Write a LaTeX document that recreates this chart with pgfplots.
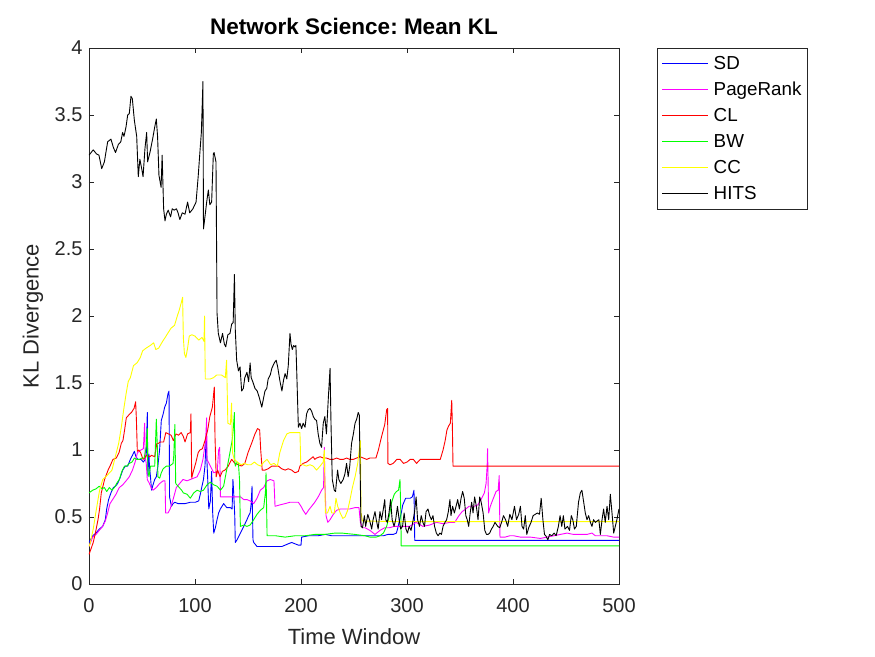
\documentclass[border=0pt]{standalone}
\usepackage{fontspec}
\setmainfont{Liberation Sans}
\usepackage{pgfplots}
\pgfplotsset{compat=1.18}
\frenchspacing

\definecolor{axiscol}{rgb}{0.15,0.15,0.15}
\definecolor{mblue}{rgb}{0,0,1}
\definecolor{mmagenta}{rgb}{1,0,1}
\definecolor{mred}{rgb}{1,0,0}
\definecolor{mgreen}{rgb}{0,1,0}
\definecolor{myellow}{rgb}{1,1,0}

\begin{document}
\begin{tikzpicture}
\useasboundingbox (-89pt,-72pt) rectangle (786pt,584pt);
\begin{axis}[
  scale only axis,
  width=530pt, height=536pt,
  at={(0pt,0pt)}, anchor=south west,
  xmin=0, xmax=500, ymin=0, ymax=4,
  xtick={0,100,...,500},
  ytick={0,0.5,...,4},
  tick align=inside,
  major tick length=5pt,
  axis line style={draw=axiscol, line width=0.8pt},
  every tick/.style={draw=axiscol, line width=0.8pt},
  /pgf/number format/assume math mode=true,
  ticklabel style={font=\fontsize{20}{24}\selectfont, text=axiscol},
  xticklabel style={yshift=-11pt},
  yticklabel style={xshift=-3pt},
  title={Network Science: Mean KL},
  title style={font=\bfseries\fontsize{22.5}{26}\selectfont, at={(axis description cs:0.5,1.029)}, anchor=center, yshift=0pt},
  xlabel={Time Window},
  ylabel={KL Divergence},
  xlabel style={font=\fontsize{22}{26}\selectfont, text=axiscol, at={(axis description cs:0.5,-0.099)}, anchor=center},
  ylabel style={font=\fontsize{22}{26}\selectfont, text=axiscol, at={(axis description cs:-0.106,0.5)}, anchor=center},
  legend style={at={(1.0725,1.0006)}, anchor=north west, draw=axiscol, line width=0.8pt,
    font=\fontsize{18.8}{22}\selectfont, inner xsep=4pt, inner ysep=6pt, row sep=7.4pt,
    /tikz/every odd column/.append style={column sep=3pt}},
  legend cell align=left,
  legend image code/.code={\draw[#1] (0pt,0pt) -- (46pt,0pt);},
  every axis plot/.append style={line width=0.9pt, line join=round, mark=none},
]

% SD
\addplot[color=mblue] coordinates {
(0,0.31) (3.5,0.36) (6.6,0.38) (9.7,0.41) (12.9,0.43) (15.4,0.48) (16.7,0.56) (18.5,0.63) (20.7,0.68) (23,0.72) (25,0.73) (27,0.75) (29.2,0.79) (31.8,0.85) (34.3,0.88) (36.5,0.88) (38,0.91) (39.6,0.94) (41,0.96) (42.8,0.99) (44.3,0.95) (46,0.93) (49,0.93) (51.3,0.91) (53,0.93) (54,0.96) (55,1.28) (55.5,0.81) (56.6,0.97) (57,0.88) (58,0.80) (59,0.70) (60.4,0.74) (62,0.78) (63.5,0.80) (65,0.88) (66.7,1.01) (68.2,1.22) (70,1.27) (71.4,1.32) (73,1.35) (74.5,1.42) (75.5,1.44) (76,0.65) (77.8,0.58) (79.3,0.60) (81,0.61) (84,0.60) (87.4,0.60) (90.6,0.60) (95.6,0.61) (100.3,0.61) (103.5,0.62) (105,0.67) (106.6,0.73) (108,0.78) (109.4,0.88) (110.6,1.10) (111.3,0.91) (112,0.78) (113,0.56) (114.5,0.62) (115.7,0.84) (116.7,0.53) (117.7,0.38) (119.2,0.42) (120.8,0.48) (122.3,0.53) (123.9,0.56) (125.5,0.58) (127,0.60) (130,0.57) (133.4,0.57) (135,0.56) (135.8,0.78) (136.5,0.68) (137.5,0.51) (138,0.31) (139.7,0.33) (142.8,0.38) (146,0.43) (149,0.48) (150.6,0.51) (152,0.53) (153,0.60) (153.8,0.73) (154.7,0.33) (155.4,0.31) (158.5,0.28) (165,0.28) (171,0.28) (182,0.28) (185,0.29) (188,0.30) (191.2,0.31) (194.3,0.30) (197.5,0.29) (200,0.29) (200.6,0.35) (207,0.36) (216,0.36) (223,0.37) (229,0.36) (238.5,0.36) (251,0.36) (263.5,0.36) (271,0.36) (277.7,0.36) (282,0.37) (287,0.37) (290,0.38) (291.4,0.42) (293,0.48) (294.6,0.53) (296,0.59) (298.7,0.64) (303,0.64) (305,0.65) (306.6,0.70) (307.3,0.326) (500,0.326)
};
\addlegendentry{SD}

% PageRank
\addplot[color=mmagenta] coordinates {
(0,0.28) (3.5,0.35) (6.6,0.37) (9.7,0.40) (12.9,0.43) (15.4,0.47) (17.6,0.53) (19.8,0.60) (22.3,0.63) (25.5,0.67) (28.6,0.72) (31.8,0.74) (35,0.77) (38,0.80) (41,0.85) (43.5,0.91) (45.7,0.98) (49,1.00) (51.3,1.01) (52.5,1.20) (53,0.95) (54,0.90) (55,0.78) (57,0.75) (58.6,0.72) (60.4,0.70) (63.5,0.72) (66.7,0.75) (70,0.77) (71.7,0.77) (72.3,0.53) (74.5,0.53) (76.6,0.56) (79.3,0.63) (82.4,0.72) (85.5,0.75) (88.7,0.78) (92.5,0.77) (95.6,0.78) (98.8,0.79) (102,0.80) (105,0.85) (107.5,0.93) (110,1.07) (111,1.24) (111.3,0.93) (114.5,0.88) (117.7,0.83) (121,0.84) (122.3,1.00) (123.3,1.02) (124,0.65) (130,0.65) (136.5,0.65) (143,0.65) (146,0.63) (149,0.63) (152,0.62) (155.4,0.60) (158.5,0.64) (161.6,0.70) (164.8,0.72) (168,0.77) (171,0.78) (174.5,0.77) (175.5,0.58) (180,0.59) (185,0.60) (189.6,0.61) (194.3,0.61) (197.5,0.61) (200,0.58) (202,0.55) (204.5,0.52) (207,0.55) (210,0.58) (213,0.61) (216.2,0.65) (219.4,0.70) (221.3,0.72) (222,1.02) (222.5,0.78) (223.6,0.51) (225.3,0.46) (227.4,0.48) (230.5,0.52) (233.6,0.55) (237,0.56) (241.5,0.56) (246,0.56) (251,0.57) (254.7,0.57) (256,0.46) (258,0.42) (260.4,0.42) (265,0.40) (269.8,0.37) (274.5,0.40) (279,0.42) (283.4,0.42) (288,0.43) (297.6,0.43) (302.4,0.43) (308.6,0.46) (315,0.43) (321.4,0.44) (327.7,0.46) (334,0.45) (340.5,0.46) (345,0.46) (349,0.51) (352,0.54) (355.5,0.56) (358.5,0.58) (363.5,0.58) (366.7,0.59) (369.8,0.63) (373,0.68) (374.6,0.75) (375.6,0.88) (376,1.01) (376.5,0.78) (377,0.53) (378.6,0.58) (381,0.63) (384,0.69) (386,0.70) (387,0.81) (387.7,0.35) (392.5,0.35) (397,0.36) (400.6,0.36) (406.9,0.35) (416.4,0.35) (425.8,0.34) (432,0.35) (438.4,0.36) (444.7,0.37) (451,0.38) (457,0.37) (463.5,0.37) (469.8,0.37) (474.5,0.38) (477.7,0.36) (482.4,0.36) (488.7,0.36) (495,0.35) (500,0.35)
};
\addlegendentry{PageRank}

% CL
\addplot[color=mred] coordinates {
(0,0.22) (0.9,0.24) (4,0.31) (6,0.38) (8.5,0.48) (10,0.56) (11.6,0.68) (14.7,0.78) (18,0.85) (20.4,0.89) (22.6,0.93) (25.8,0.94) (28.3,0.98) (30.5,1.05) (32,1.07) (33.6,1.15) (35.2,1.24) (37.4,1.26) (40,1.28) (42.5,1.31) (44,1.36) (44.7,1.23) (45.6,0.99) (47,1.00) (48.7,0.98) (51,0.93) (52.5,0.94) (54,0.96) (57.5,0.95) (59,0.96) (62,0.95) (64,1.05) (65.7,1.05) (67.2,1.06) (70.4,1.06) (72.5,1.13) (75,1.12) (77.5,1.11) (79.6,1.07) (82,1.12) (84.5,1.11) (87,1.13) (89,1.10) (90.6,1.06) (93,1.12) (95.6,1.13) (96.2,1.27) (96.9,0.79) (98.4,0.84) (100.6,0.90) (103,0.98) (104.6,1.00) (107,1.01) (109.4,1.07) (112,1.15) (114,1.25) (116.4,1.32) (117.6,1.42) (118.2,1.47) (118.9,1.09) (120,0.80) (121.4,0.85) (123.6,0.80) (125.8,0.84) (128.3,0.85) (131.4,0.88) (134.6,0.93) (137.7,0.90) (140.8,0.89) (144,0.88) (147,0.90) (150,0.98) (153.4,1.05) (156.6,1.12) (159,1.16) (161,1.15) (162,1.00) (163.4,0.85) (166,0.85) (169,0.86) (172.5,0.88) (175.5,0.88) (178.6,0.88) (181.8,0.86) (185,0.85) (188,0.86) (191.2,0.85) (194.3,0.83) (197.5,0.84) (199,0.88) (202,0.90) (205.3,0.91) (208.4,0.93) (211.5,0.95) (213,0.93) (214.7,0.94) (218,0.95) (221,0.94) (224,0.94) (227.4,0.93) (230.5,0.93) (233.6,0.94) (236.8,0.93) (240,0.93) (243,0.94) (246,0.93) (249.4,0.93) (252.5,0.94) (255.7,0.95) (258.8,0.94) (262,0.93) (265,0.94) (270.7,0.94) (273,1.00) (276,1.10) (279,1.19) (280.8,1.30) (281.7,1.31) (282,0.90) (284,0.89) (287,0.90) (290.4,0.93) (293.5,0.93) (296.7,0.90) (300,0.91) (303,0.93) (306,0.93) (309,0.90) (312.5,0.93) (315.6,0.93) (318.8,0.93) (323.5,0.93) (328,0.93) (331.4,0.93) (334,1.00) (336,1.07) (337.7,1.15) (339.3,1.18) (340.9,1.20) (341.5,1.28) (342.2,1.37) (342.8,1.18) (343.4,0.88) (500,0.88)
};
\addlegendentry{CL}

% BW
\addplot[color=mgreen] coordinates {
(0,0.68) (3.5,0.70) (6.6,0.71) (9.7,0.73) (12.3,0.71) (14.5,0.72) (16.7,0.69) (19.2,0.72) (21.7,0.70) (24,0.72) (26,0.75) (28.6,0.78) (31,0.84) (33.5,0.88) (35.7,0.88) (38,0.90) (40.6,0.91) (42.8,0.94) (45,0.93) (47.5,0.93) (50,0.94) (52,0.94) (54,1.02) (55,1.16) (55.5,0.85) (56.6,0.80) (58,0.88) (62,0.88) (63.5,1.23) (64.5,1.02) (65,0.80) (66.7,0.79) (68.2,0.83) (70,0.86) (73,0.88) (76,0.88) (79.3,0.90) (80,0.96) (81,1.19) (81.8,0.75) (84,0.73) (87.4,0.70) (89,0.68) (92.5,0.67) (95.6,0.64) (98.8,0.68) (102,0.70) (105,0.69) (108,0.70) (111.3,0.74) (114.5,0.76) (117.7,0.74) (120.8,0.73) (124,0.70) (127,0.73) (129.6,0.84) (131.8,0.93) (133.4,1.00) (135,1.07) (136,1.15) (137.2,1.28) (137.5,0.93) (138,0.88) (139.7,0.91) (141,0.90) (142,0.78) (142.8,0.43) (146,0.44) (149,0.43) (152,0.44) (155.4,0.48) (158.5,0.52) (161.6,0.55) (164.8,0.57) (166.4,0.68) (167,0.83) (168,0.36) (171,0.36) (176,0.36) (185,0.35) (194.3,0.36) (203.8,0.36) (213,0.37) (222.5,0.37) (232,0.38) (238.5,0.38) (251,0.37) (260.4,0.36) (265,0.35) (271,0.35) (274.5,0.36) (277.7,0.38) (280.8,0.43) (283.4,0.51) (285.5,0.61) (288,0.67) (290,0.69) (292,0.70) (293.4,0.78) (294.3,0.48) (294.5,0.284) (500,0.284)
};
\addlegendentry{BW}

% CC
\addplot[color=myellow] coordinates {
(0,0.28) (1,0.30) (4,0.41) (7,0.56) (10,0.70) (13,0.78) (17,0.81) (21.7,0.85) (24.8,0.95) (28,1.05) (30.5,1.17) (32.7,1.30) (35,1.42) (37,1.51) (39,1.54) (42,1.63) (45.3,1.65) (48.4,1.69) (50.6,1.74) (53.8,1.76) (57.8,1.78) (61,1.80) (63,1.75) (65.7,1.76) (69.4,1.81) (71.9,1.84) (75,1.88) (77.5,1.91) (80.7,1.93) (83.3,2.00) (85,2.04) (87.4,2.11) (88.3,2.14) (89,1.84) (90,1.72) (91.4,1.69) (93,1.76) (94.6,1.85) (97,1.86) (100,1.85) (103.5,1.82) (106.6,1.84) (108.5,1.81) (109,2.00) (109.7,1.53) (114.5,1.53) (117.5,1.54) (120.5,1.56) (125,1.56) (128.6,1.54) (129.8,1.67) (131,1.20) (133.4,1.19) (134.5,1.35) (135.4,0.98) (137,0.93) (140,0.91) (143.4,0.89) (146.5,0.90) (149.7,0.89) (152.8,0.89) (156,0.91) (159,0.89) (162,0.88) (165,0.91) (168,0.93) (171.4,0.89) (174.5,0.90) (177.7,0.88) (180,0.98) (183.5,1.07) (186.6,1.12) (189.6,1.13) (193,1.13) (197.5,1.13) (199,1.13) (199.8,0.89) (202,0.89) (205,0.88) (208.4,0.89) (211.5,0.88) (214.7,0.85) (218,0.88) (221,0.91) (222,1.00) (223,0.53) (225,0.53) (227.4,0.58) (229,0.53) (231.4,0.53) (233,0.64) (234.6,0.58) (237,0.53) (239.4,0.49) (241.5,0.50) (244,0.55) (246,0.62) (248.5,0.72) (251,0.80) (253.5,0.90) (256,1.07) (256.6,0.53) (258,0.47) (300,0.465) (500,0.465)
};
\addlegendentry{CC}

% HITS
\addplot[color=black] coordinates {
(0,3.20) (1,3.21) (4,3.24) (7,3.21) (9.4,3.20) (12,3.10) (14.5,3.15) (17.6,3.30) (20.7,3.32) (22.9,3.26) (25,3.22) (27.7,3.28) (30,3.30) (31.7,3.37) (33,3.34) (34.9,3.41) (36.5,3.50) (38,3.51) (39.6,3.64) (40.9,3.62) (42.8,3.46) (45,3.34) (46.5,3.04) (48,3.17) (49.7,3.10) (51,3.04) (52.8,3.25) (54.4,3.37) (55.3,3.15) (57.5,3.22) (60,3.32) (62,3.41) (63.5,3.47) (64.7,3.34) (66,3.05) (68,2.96) (69,3.20) (70.4,2.80) (71.7,2.71) (73,2.76) (74.7,2.79) (77,2.74) (78.5,2.80) (80.4,2.79) (82.5,2.80) (84,2.77) (85.7,2.72) (88,2.77) (90.6,2.76) (93,2.85) (95,2.77) (98,2.80) (101,2.85) (103,3.04) (104.6,3.22) (106,3.37) (107.5,3.75) (108,2.65) (109.4,2.74) (111,2.85) (112.6,2.94) (114,2.83) (115.7,2.85) (117.3,3.21) (118,3.22) (119.8,3.15) (120.4,2.48) (120.8,2.02) (122,1.87) (124,1.80) (126,1.87) (127.7,1.79) (129,1.77) (131,1.86) (133,1.87) (134.6,1.94) (136,1.95) (137.2,2.31) (138,1.90) (139.3,1.67) (141,1.59) (142.5,1.62) (144,1.44) (145.6,1.46) (147,1.54) (149,1.58) (150.6,1.51) (152,1.65) (153,1.54) (154.5,1.51) (156.6,1.46) (158.7,1.44) (160.7,1.39) (163,1.32) (164.5,1.38) (166,1.44) (167.7,1.46) (169,1.53) (171,1.56) (172.5,1.61) (174.8,1.65) (176.6,1.67) (178,1.62) (180,1.52) (182,1.44) (183.5,1.52) (185,1.57) (186.6,1.53) (188,1.63) (189.6,1.87) (190.6,1.79) (191.8,1.75) (193,1.78) (194.3,1.77) (195.2,1.78) (196,1.58) (197.5,1.17) (199,1.20) (200.6,1.16) (202,1.20) (203.8,1.17) (205.3,1.27) (206.8,1.30) (208.4,1.31) (210,1.29) (211.6,1.25) (213,1.23) (214.7,1.22) (216.2,1.12) (217.8,1.05) (219.4,1.02) (221,1.20) (222.5,1.25) (224,1.12) (225.8,1.39) (227.4,1.61) (228.3,1.20) (229.5,0.78) (231.4,0.70) (232.6,0.69) (234.5,0.85) (235.7,0.78) (237.6,0.75) (239.8,0.78) (241.4,0.82) (243,0.90) (244.5,0.80) (246,0.88) (247.7,1.05) (249.4,1.12) (251,1.20) (252.5,1.23) (254,1.28) (255,1.26) (256.6,0.43) (258,0.42) (259.8,0.51) (261,0.43) (263,0.52) (264.6,0.48) (266.7,0.41) (268,0.48) (269.8,0.54) (271,0.48) (272.8,0.41) (274.5,0.54) (276,0.48) (277.7,0.56) (279,0.63) (280,0.48) (281.4,0.46) (283,0.53) (284.5,0.63) (286,0.48) (287.8,0.43) (289.3,0.48) (291,0.58) (292.6,0.48) (294,0.41) (295.8,0.43) (297.3,0.53) (299,0.41) (300.5,0.38) (302,0.43) (303.8,0.40) (305.4,0.46) (307,0.53) (308.6,0.65) (310,0.48) (311.8,0.43) (313.4,0.51) (315,0.46) (316.5,0.43) (318,0.54) (319.8,0.56) (321.4,0.51) (323,0.48) (324.5,0.51) (326,0.43) (327.7,0.38) (329.3,0.36) (331,0.38) (332.5,0.37) (334,0.43) (335.8,0.46) (337.4,0.48) (339,0.54) (340.5,0.63) (341.5,0.51) (343,0.58) (344.7,0.53) (346.3,0.58) (347.8,0.63) (349.4,0.56) (351,0.64) (352.5,0.69) (354,0.64) (355.5,0.51) (356.8,0.48) (358.2,0.43) (359.6,0.53) (361,0.61) (362.3,0.53) (363.8,0.65) (365.4,0.58) (367,0.48) (368.6,0.65) (370,0.61) (371.8,0.53) (373.4,0.40) (375,0.37) (376.5,0.37) (378,0.38) (379.7,0.41) (381.3,0.43) (383,0.46) (385.6,0.43) (387.5,0.42) (389.6,0.47) (391,0.51) (393,0.48) (395,0.43) (397,0.52) (399,0.48) (401.4,0.58) (403.3,0.48) (405.4,0.52) (407,0.58) (408.5,0.43) (410,0.41) (411.6,0.51) (413,0.37) (414.8,0.42) (417,0.46) (419,0.51) (421,0.52) (423,0.53) (425,0.52) (426.6,0.64) (428.2,0.48) (429.7,0.37) (431,0.36) (432.9,0.33) (434.5,0.37) (436.6,0.36) (438.8,0.38) (440.7,0.36) (442.8,0.43) (444.4,0.51) (446,0.43) (447.5,0.51) (449,0.41) (451.4,0.43) (453.3,0.40) (455,0.51) (456.4,0.48) (458,0.41) (459.7,0.43) (461.8,0.61) (463.5,0.68) (465,0.70) (466.7,0.61) (468.2,0.53) (469.8,0.48) (471.4,0.51) (473,0.46) (474.5,0.43) (476,0.48) (477.7,0.46) (479.3,0.47) (481,0.48) (482.4,0.37) (484,0.48) (485.5,0.56) (487,0.46) (488.7,0.58) (490.3,0.48) (491.8,0.67) (493.4,0.53) (495,0.38) (496.5,0.43) (498,0.48) (500,0.56)
};
\addlegendentry{HITS}

\end{axis}
\end{tikzpicture}
\end{document}
